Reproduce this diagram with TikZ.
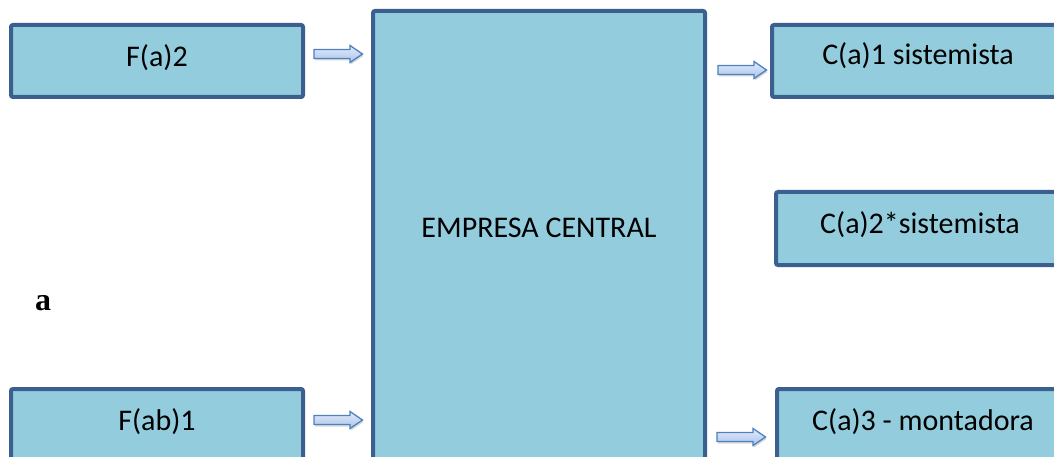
\documentclass[tikz,border=0pt]{standalone}
\usepackage{fontspec}
\setmainfont{Carlito}
\newfontfamily\serifbold{Liberation Serif}
\usetikzlibrary{shadows}
\definecolor{boxfill}{HTML}{93CDDD}
\definecolor{boxline}{HTML}{3B5F8E}
\definecolor{arrline}{HTML}{4F81BD}
\definecolor{arrlight}{HTML}{E4ECFA}
\definecolor{arrmid}{HTML}{A9C2EC}
\tikzset{
  box/.style={draw=boxline, fill=boxfill, line width=4pt, rounded corners=2pt,
    inner sep=0pt, font=\fontsize{30}{36}\selectfont, text=black},
  lbl/.style={inner sep=0pt, font=\fontsize{30}{36}\selectfont, text=black},
  blockarrow/.style={draw=arrline, line width=1.3pt, line join=miter,
    top color=arrlight, bottom color=arrmid,
    drop shadow={shadow xshift=1pt, shadow yshift=-2pt, opacity=0.3}}
}
\newcommand\blockarr[1]{%
  \draw[blockarrow] (#1) ++(0,-4.5) -- ++(36,0) -- ++(0,-4) -- ++(12.5,8.5)
    -- ++(-12.5,8.5) -- ++(0,-4) -- ++(-36,0) -- cycle;}
\begin{document}
\begin{tikzpicture}[x=1pt,y=-1pt]
\clip (0,0) rectangle (1054,457);
\useasboundingbox (0,0) rectangle (1054,457);
\fill[white] (0,0) rectangle (1054,457);

\node[box, minimum width=292pt, minimum height=72pt] (fa2) at (157,61) {};
\node[lbl] (fa2t) at (157,58) {F(a)2};
\node[box, minimum width=292pt, minimum height=72pt] (fab1) at (157,425) {};
\node[lbl] (fab1t) at (157,422) {F(ab)1};

\node[box, minimum width=332pt, minimum height=480pt] (emp) at (539,251) {};
\node[lbl] (empt) at (539,228) {EMPRESA CENTRAL};

\node[box, minimum width=292pt, minimum height=72pt] (ca1) at (918,61) {};
\node[lbl] (ca1t) at (918,56) {C(a)1 sistemista};
\node[box, minimum width=292pt, minimum height=73pt] (ca2) at (922,228.5) {};
\node[lbl] (ca2t) at (920,225) {C(a)2*sistemista};
\node[box, minimum width=292pt, minimum height=72pt] (ca3) at (923,425) {};
\node[lbl] (ca3t) at (923,422) {C(a)3 - montadora};

\node[inner sep=0pt, font=\serifbold\bfseries\fontsize{32}{34}\selectfont] (a) at (43,303) {a};

\coordinate (ar1) at (314,54);
\coordinate (ar2) at (718,70);
\coordinate (ar3) at (314,420);
\coordinate (ar4) at (717,437);
\blockarr{ar1}
\blockarr{ar2}
\blockarr{ar3}
\blockarr{ar4}
\end{tikzpicture}
\end{document}
